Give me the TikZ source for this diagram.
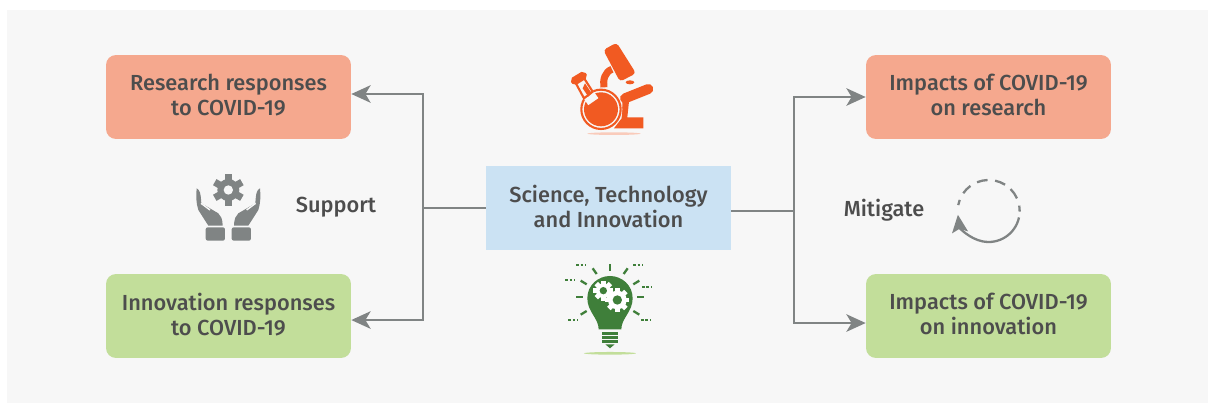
\documentclass[tikz,border=0pt]{standalone}
\usepackage{fontspec}
\setmainfont{Fira Sans Medium}
\usetikzlibrary{arrows.meta}
\definecolor{panelgrey}{HTML}{F7F7F7}
\definecolor{salmonbox}{HTML}{F5A88E}
\definecolor{greenbox}{HTML}{C2DE9A}
\definecolor{bluebox}{HTML}{CBE2F3}
\definecolor{labeltext}{HTML}{4D4D4D}
\definecolor{linegrey}{HTML}{808484}
\definecolor{iconorange}{HTML}{F15A22}
\definecolor{icongreen}{HTML}{3F7F3A}
\tikzset{
  topicbox/.style={minimum width=4.9cm, minimum height=1.68cm, inner sep=0pt, align=center,
    text=labeltext, font=\fontsize{12.4}{14.2}\selectfont, text depth=2.3pt},
  salmon/.style={topicbox, fill=salmonbox, rounded corners=0.2cm},
  leaf/.style={topicbox, fill=greenbox, rounded corners=0.2cm},
  centre/.style={topicbox, fill=bluebox},
  verb/.style={text=labeltext, inner sep=0pt, font=\fontsize{12.4}{14.2}\selectfont},
  link/.style={linegrey, line width=1.1pt},
  linkarrow/.style={link, -{Stealth[length=11pt,width=10pt,inset=3pt]}},
}
\begin{document}
\begin{tikzpicture}[x=0.02cm,y=0.02cm]
    \useasboundingbox (0,0) rectangle (1208,-404);
    \fill [panelgrey] (7,-10) rectangle (1208,-403);
    % boxes
    \node [salmon] (resresp) at (228.5,-97) {Research responses\\to COVID-19};
    \node [leaf] (innresp) at (228.5,-316) {Innovation responses\\to COVID-19};
    \node [salmon] (resimp) at (988.5,-97) {Impacts of COVID-19\\on research};
    \node [leaf] (innimp) at (988.5,-316) {Impacts of COVID-19\\on innovation};
    \node [centre] (sti) at (608.5,-208) {Science, Technology\\and Innovation};
    \node [verb] (support) at (336,-207) {Support};
    \node [verb] (mitigate) at (884,-210) {Mitigate};
    % links
    \coordinate (leftbus) at (423,-208);
    \coordinate (rightbus) at (794,-211);
    \draw [linegrey, line width=0.6pt] (sti.west) -- (leftbus);
    \draw [linegrey, line width=0.6pt] (sti.east) ++(0,-3) -- (rightbus);
    \draw [linkarrow] (leftbus) |- ([yshift=1.7pt]resresp.east);
    \draw [linkarrow] (leftbus) |- ([yshift=-2.3pt]innresp.east);
    \draw [linkarrow] (rightbus) |- (resimp.west);
    \draw [linkarrow] (rightbus) |- ([yshift=-4pt]innimp.west);
    % microscope and flask
    \begin{scope}[shift={(540,-30)},scale=0.3333]
        \fill [salmonbox!60] (222,-311) ellipse (80 and 4);
        \fill [iconorange, rounded corners=2pt] (190,-60) -- (230,-38) -- (288,-130) -- (240,-155) -- cycle;
        \draw [iconorange, line width=4pt] (216,-118) .. controls (195,-125) and (188,-150) .. (192,-172);
        \fill [iconorange] (270,-157) ellipse (13 and 6);
        \draw [iconorange, line width=5.7pt, line cap=round] (255,-205) -- (325,-177);
        \fill [iconorange] (248,-205) -- (268,-205) -- (262,-262) -- (310,-262) -- (310,-295) -- (222,-295) -- (245,-265) -- cycle;
        \fill [panelgrey] (183,-238) circle (64);
        \fill [iconorange] (183,-238) circle (51);
        \draw [iconorange, line width=1.2pt] (183,-238) circle (59);
        \draw [panelgrey, line width=7pt] (115,-150) -- (160,-215);
        \draw [iconorange, line width=1.2pt, fill=panelgrey] (105,-155) -- (132,-205) -- (158,-185) -- (128,-138) -- cycle;
        \fill [iconorange] (128,-175) -- (145,-200) -- (155,-190) -- (135,-160) -- cycle;
        \draw [iconorange, line width=2.5pt, fill=panelgrey, rounded corners=1pt] (97,-150) -- (130,-130) -- (136,-140) -- (104,-160) -- cycle;
    \end{scope}
    % light bulb
    \begin{scope}[shift={(540,-250)},scale=0.3333]
        \fill [greenbox] (210,-310) ellipse (78 and 4);
        \fill [icongreen] (176,-238) .. controls (176,-205) and (142,-185) .. (142,-145)
            .. controls (142,-105) and (175,-78) .. (210,-78)
            .. controls (245,-78) and (278,-105) .. (278,-145)
            .. controls (278,-185) and (244,-205) .. (244,-238) -- cycle;
        \foreach \barY in {246,258,270}
            \fill [icongreen] (187,-\barY) rectangle (233,-\barY-10);
        \fill [icongreen] (196,-283) -- (224,-283) -- (210,-295) -- cycle;
        % gears
        \foreach \teeth/\gx/\gy/\gr in {8/190/-122/22, 8/232/-150/28} {
            \fill [white] (\gx,\gy) circle (\gr);
            \foreach \n in {1,...,\teeth}
                \draw [white, line width=2.8pt] (\gx,\gy) ++(\n*360/\teeth:\gr-3) -- ++(\n*360/\teeth:11);
            \fill [icongreen] (\gx,\gy) circle (\gr*0.5);
        }
        % rays
        \foreach \xa/\ya/\xb/\yb in {210/-42/210/-62, 158/-55/170/-72, 263/-55/251/-72, 122/-92/140/-103, 298/-92/280/-103, 108/-142/128/-142, 292/-142/313/-142, 122/-194/140/-183, 298/-194/280/-183}
            \draw [icongreen, line width=1.3pt] (\xa,\ya) -- (\xb,\yb);
        \foreach \dx/\dy in {123/-44, 294/-44, 90/-89, 320/-110, 99/-209, 317/-209}
            \draw [icongreen, line width=1.3pt, dash pattern=on 1.5pt off 1pt] (\dx-14,\dy) -- (\dx+14,\dy);
    \end{scope}
    % hands with gear
    \begin{scope}[shift={(180,-160)},scale=0.3333]
        \fill [linegrey] (145,-90) circle (33);
        \foreach \n in {0,...,5}
            \draw [linegrey, line width=4pt] (145,-90) ++(90+\n*60:30) -- ++(90+\n*60:17);
        \fill [panelgrey] (145,-90) circle (14);
        \foreach \m in {1,-1} {
            \begin{scope}[shift={(145,0)},xscale=\m]
                \fill [linegrey, rounded corners=1.2pt] (-68,-202) rectangle (-10,-242);
                \fill [linegrey] (-95,-85) .. controls (-85,-90) and (-83,-100) .. (-81,-130)
                    -- (-30,-160) .. controls (-22,-168) and (-18,-175) .. (-17,-197)
                    -- (-60,-197) -- (-90,-150) .. controls (-97,-130) and (-97,-105) .. (-95,-85) -- cycle;
                \draw [panelgrey, line width=0.8pt] (-82,-130) -- (-55,-150);
            \end{scope}
        }
    \end{scope}
    % cycle
    \begin{scope}[shift={(930,-165)},scale=0.3333]
        \draw [linegrey, line width=1.3pt, -{Stealth[length=10pt,width=9pt,inset=2pt]}] (176,-138) ++(-12:93) arc (-12:-173:93);
        \foreach \aa/\ab in {169/159, 145/126, 112/92, 78/58, 45/24, 10/-1}
            \draw [linegrey, line width=1.3pt] (176,-138) ++(\aa:93) arc (\aa:\ab:93);
    \end{scope}
\end{tikzpicture}
\end{document}
